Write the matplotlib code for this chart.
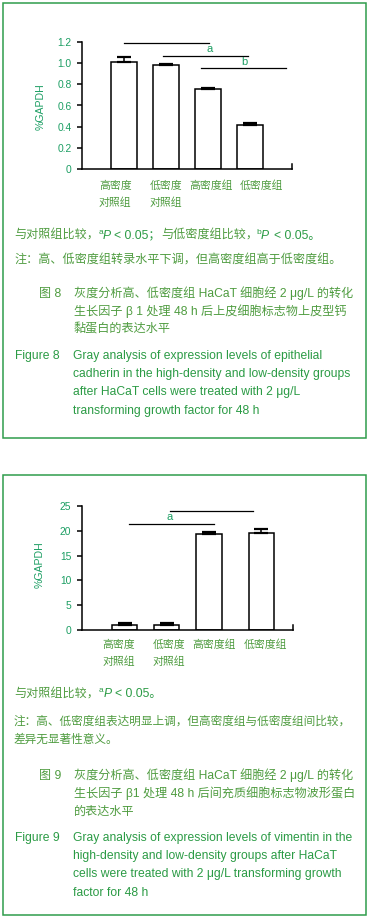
import matplotlib
matplotlib.use("Agg")
import matplotlib.pyplot as plt
from matplotlib.patches import Rectangle

plt.rcParams['font.family'] = ['Liberation Sans', 'Noto Sans CJK SC', 'DejaVu Sans']

W, H = 371, 921

# data
groups = ['高密度\n对照组', '低密度\n对照组', '高密度组', '低密度组']
ecad_mean = [1.01, 0.982, 0.757, 0.415]
ecad_err = [0.048, 0.016, 0.01, 0.017]
vim_mean = [0.95, 0.95, 19.3, 19.5]
vim_err = [0.4, 0.4, 0.4, 0.9]

ecad_yticks = [0, 0.2, 0.4, 0.6, 0.8, 1.0, 1.2]
ecad_ytl = ['0', '0.2', '0.4', '0.6', '0.8', '1.0', '1.2']
vim_yticks = [0, 5, 10, 15, 20, 25]
vim_ytl = ['0', '5', '10', '15', '20', '25']

# significance lines (x0, x1, y) and letters (x, y, text)
ecad_sig = [(0.0, 2.02, 1.194), (0.93, 2.95, 1.067), (1.84, 3.85, 0.953)]
ecad_letters = [(2.04, 1.137, 'a'), (2.86, 1.01, 'b')]
vim_sig = [(0.11, 2.11, 21.3), (1.08, 3.04, 24.0)]
vim_letters = [(1.06, 22.8, 'a')]

TICK_C = '#1c9e63'
CN_C = '#4f9c40'
EN_C = '#2b9b45'
BORDER_C = '#2f9d4c'


def fx(x):
    return x / W


def fy(y):
    return 1 - y / H


fig = plt.figure(figsize=(W / 100, H / 100), dpi=100)

# panel borders
for (x0, y0, x1, y1) in [(2.7, 3.3, 365.7, 438.3), (2.7, 475.3, 365.7, 915)]:
    fig.patches.append(Rectangle((fx(x0), fy(y1)), fx(x1) - fx(x0), fy(y0) - fy(y1),
                                 transform=fig.transFigure, fill=False,
                                 edgecolor=BORDER_C, lw=1.1))


def chart(box, means, errs, pos, xlim, ylim, yticks, ytl, sig, letters, lab_pos, lab_pad, ylab_y):
    left, top, right, bottom = box
    ax = fig.add_axes([fx(left), fy(bottom), fx(right) - fx(left), fy(top) - fy(bottom)])
    ax.bar(pos, means, width=0.6, color='white', edgecolor='black', lw=1.1,
           yerr=[[0] * len(errs), errs],
           error_kw=dict(ecolor='black', elinewidth=1.1, capsize=5, capthick=1.6), zorder=2)
    ax.set_xlim(*xlim)
    ax.set_ylim(*ylim)
    for s in ['top', 'right']:
        ax.spines[s].set_visible(False)
    for s in ['left', 'bottom']:
        ax.spines[s].set_linewidth(1.1)
    ax.axvline(xlim[1], ymin=0, ymax=0.037, color='black', lw=1.1, clip_on=False)
    ax.set_yticks(yticks, ytl)
    ax.tick_params(axis='y', length=3.4, width=1.1, pad=4, labelsize=7.4, labelcolor=TICK_C)
    ax.set_xticks(lab_pos, groups)
    ax.tick_params(axis='x', length=0, pad=lab_pad, labelsize=7.8, labelcolor=CN_C)
    for lab in ax.get_xticklabels():
        lab.set_linespacing(1.8)
    for x0, x1, y in sig:
        ax.plot([x0, x1], [y, y], color='black', lw=0.9, clip_on=False)
    for x, y, t in letters:
        ax.text(x, y, t, ha='center', va='center', fontsize=8, color=TICK_C)
    ax.text(-0.197, ylab_y, '%GAPDH', transform=ax.transAxes, rotation=90,
            ha='center', va='center', fontsize=7.6, color=TICK_C)
    return ax


chart((82, 42.3, 291.7, 168.7), ecad_mean, ecad_err, [0, 1, 2, 3], (-1.0, 3.99), (0, 1.2),
      ecad_yticks, ecad_ytl, ecad_sig, ecad_letters, [-0.21, 0.99, 2.07, 3.28], 8.5, 0.488)
chart((81.5, 506, 293.3, 630), vim_mean, vim_err, [0, 1, 2, 3.24], (-1.02, 4.0), (0, 25),
      vim_yticks, vim_ytl, vim_sig, vim_letters, [-0.14, 1.06, 2.13, 3.33], 6.8, 0.524)


def line(x, y, s, size=8.7, color=CN_C, style='normal'):
    # y is the visual centre of the line in pixels; text sits on its baseline
    fig.text(fx(x), fy(y + 4.5), s, fontsize=size, color=color, style=style,
             ha='left', va='baseline')


def sup(x, y, s):
    fig.text(fx(x), fy(y - 0.5), s, fontsize=6, color=EN_C, ha='left', va='baseline')


# ---- figure 8 captions
line(14, 234.3, '与对照组比较，')
sup(98.7, 234.3, 'a')
line(102.5, 234.3, 'P', color=EN_C, style='italic')
line(114.5, 234.3, '< 0.05；', color=EN_C)
line(161, 234.3, '与低密度组比较，')
sup(256.7, 234.3, 'b')
line(260.8, 234.3, 'P', color=EN_C, style='italic')
line(273.8, 234.3, '< 0.05。', color=EN_C)
line(14, 258.7, '注：高、低密度组转录水平下调，但高密度组高于低密度组。')

line(39.3, 292, '图 8')
line(74, 292, '灰度分析高、低密度组 HaCaT 细胞经 2 μg/L 的转化')
line(74, 310.7, '生长因子 β 1 处理 48 h 后上皮细胞标志物上皮型钙')
line(74, 328.3, '黏蛋白的表达水平')

line(15.3, 354, 'Figure 8', color=EN_C)
line(73.3, 354, 'Gray analysis of expression levels of epithelial', color=EN_C)
line(73.3, 372.7, 'cadherin in the high-density and low-density groups', color=EN_C)
line(73.3, 391, 'after HaCaT cells were treated with 2 μg/L', color=EN_C)
line(73.3, 409, 'transforming growth factor for 48 h', color=EN_C)

# ---- figure 9 captions
line(14, 692.7, '与对照组比较，')
sup(99, 692.7, 'a')
line(103.3, 692.7, 'P', color=EN_C, style='italic')
line(115, 692.7, '< 0.05。', color=EN_C)
line(14, 720, '注：高、低密度组表达明显上调，但高密度组与低密度组间比较，', size=8.4)
line(14, 738.3, '差异无显著性意义。', size=8.4)

line(39.3, 774, '图 9')
line(74, 774, '灰度分析高、低密度组 HaCaT 细胞经 2 μg/L 的转化')
line(74, 792.7, '生长因子 β1 处理 48 h 后间充质细胞标志物波形蛋白')
line(74, 810, '的表达水平')

line(15.3, 836, 'Figure 9', color=EN_C)
line(73.3, 836, 'Gray analysis of expression levels of vimentin in the', color=EN_C)
line(73.3, 854.3, 'high-density and low-density groups after HaCaT', color=EN_C)
line(73.3, 872.7, 'cells were treated with 2 μg/L transforming growth', color=EN_C)
line(73.3, 891, 'factor for 48 h', color=EN_C)

fig.savefig('out.png', dpi=100)
